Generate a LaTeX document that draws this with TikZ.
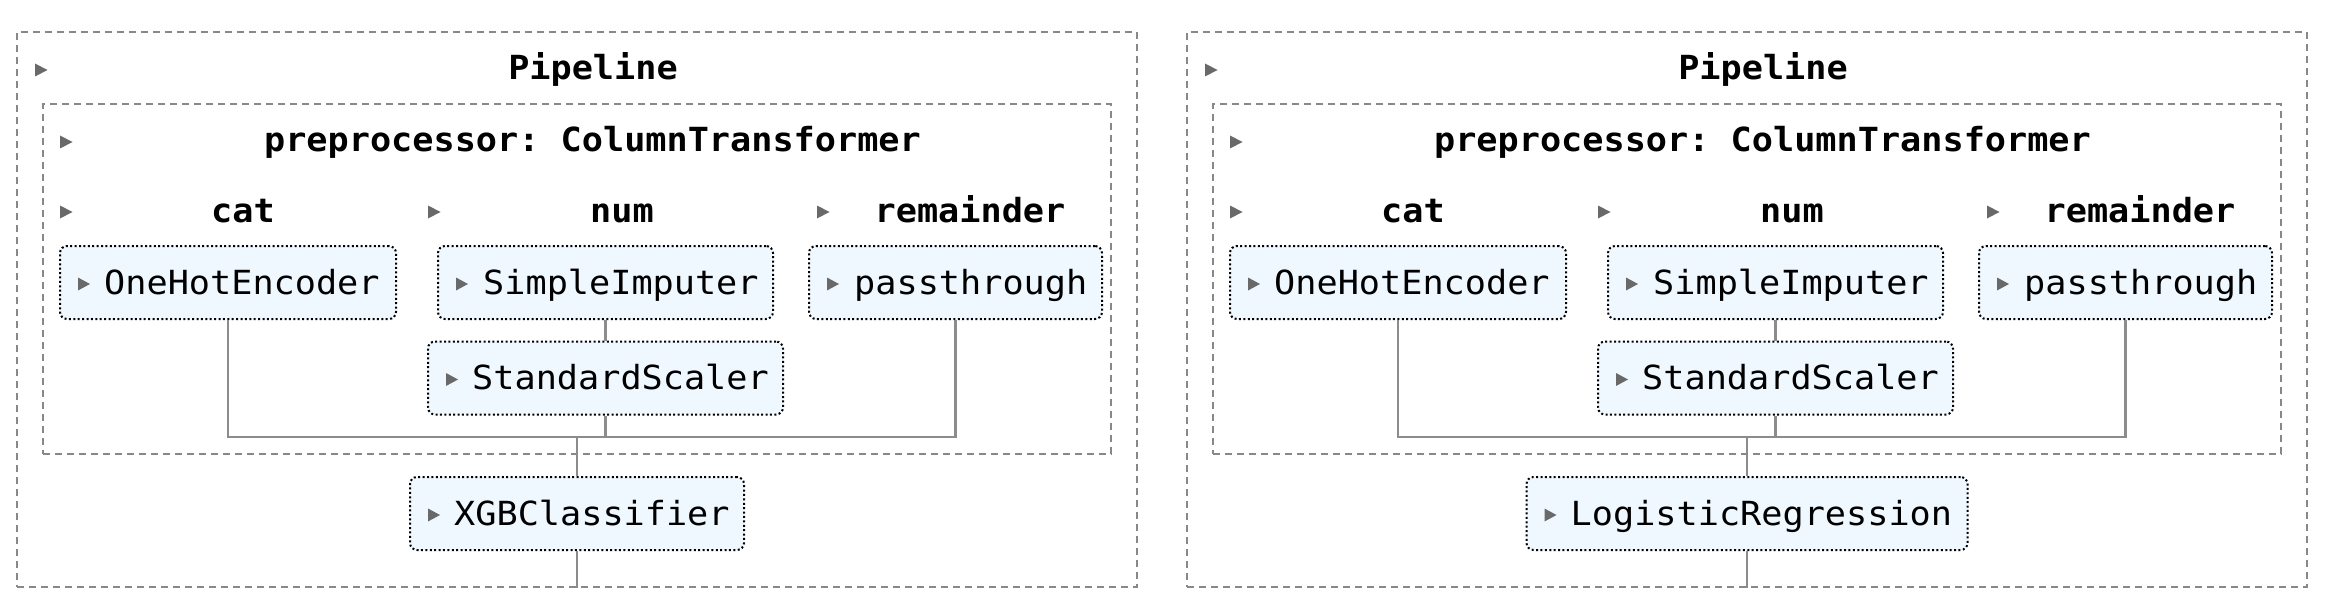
\documentclass[tikz,border=0pt]{standalone}
\usepackage{fontspec}
\setmonofont[FakeStretch=1.06]{DejaVu Sans Mono}
\definecolor{dashgray}{RGB}{136,136,136}
\definecolor{linegray}{RGB}{140,140,140}
\definecolor{trigray}{RGB}{105,105,105}
\definecolor{boxfill}{RGB}{240,248,255}
\tikzset{
 outerbox/.style={draw=dashgray, line width=2pt, dash pattern=on 7pt off 5pt, rectangle, inner sep=0pt},
 estbox/.style={draw=black, fill=boxfill, line width=2pt, dash pattern=on 2pt off 2.4pt, rounded corners=7pt, rectangle, inner sep=0pt, minimum height=73pt},
 conn/.style={draw=linegray, line width=2.2pt},
 tri/.style={fill=trigray},
 hdr/.style={font=\ttfamily\bfseries\fontsize{33.2}{40}\selectfont, inner sep=0pt, anchor=base},
 lbl/.style={font=\ttfamily\fontsize{33.2}{40}\selectfont, inner sep=0pt, anchor=base west},
}
\newcommand\hdrtri[2]{\fill[tri] (#1,#2) ++(0,-6.5) -- ++(12.5,6.5) -- ++(-12.5,6.5) -- cycle;}
\newcommand\boxtri[1]{\fill[tri] ([xshift=19pt,yshift=-32.5pt]#1.north west) -- ++(12,6.5) -- ++(-12,6.5) -- cycle;}
\newcommand\drawpipe[4]{%
\begin{scope}[xshift=#2]
 \node[outerbox, minimum width=1120pt, minimum height=555pt] (#1pipe) at (577,309.5) {};
 \node[outerbox, minimum width=1068pt, minimum height=350pt] (#1prep) at (577,279) {};
 \node[hdr] (#1tpipe) at (593,80) {Pipeline};
 \node[hdr] (#1tprep) at (592.5,152) {preprocessor: ColumnTransformer};
 \node[hdr] (#1tcat) at (243,222) {cat};
 \node[hdr] (#1tnum) at (622,222) {num};
 \node[hdr] (#1trem) at (970,222) {remainder};
 \hdrtri{35}{70}
 \hdrtri{60}{142}
 \hdrtri{60}{212}
 \hdrtri{428}{212}
 \hdrtri{817}{212}
 \coordinate (#1join) at (577,437);
 \node[estbox, minimum width=336pt] (#1ohe) at (228,282.5) {};
 \node[estbox, minimum width=335pt] (#1si) at (605.5,282.5) {};
 \node[estbox, minimum width=293pt] (#1pt) at (955.5,282.5) {};
 \node[estbox, minimum width=355pt] (#1ss) at (605.5,378) {};
 \node[estbox, minimum width=#4] (#1clf) at (577,513.5) {};
 \node[lbl] (#1lohe) at ([xshift=45pt,yshift=-49pt]#1ohe.north west) {OneHotEncoder};
 \node[lbl] (#1lsi) at ([xshift=46pt,yshift=-49pt]#1si.north west) {SimpleImputer};
 \node[lbl] (#1lpt) at ([xshift=46pt,yshift=-49pt]#1pt.north west) {passthrough};
 \node[lbl] (#1lss) at ([xshift=45pt,yshift=-49pt]#1ss.north west) {StandardScaler};
 \node[lbl] (#1lclf) at ([xshift=45pt,yshift=-49pt]#1clf.north west) {#3};
 \boxtri{#1ohe}
 \boxtri{#1si}
 \boxtri{#1pt}
 \boxtri{#1ss}
 \boxtri{#1clf}
 \draw[conn] (#1ohe.south) |- (#1join) -| (#1pt.south);
 \draw[conn] (#1si.south) -- (#1ss.north);
 \draw[conn] (#1ss.south) -- (#1ss.south |- #1join);
 \draw[conn] (#1join) -- (#1clf.north);
 \draw[conn] (#1clf.south) -- (#1pipe.south);
\end{scope}}
\begin{document}
\begin{tikzpicture}[x=1pt, y=-1pt]
 \useasboundingbox (0,0) rectangle (2332,615);
 \drawpipe{L}{0}{XGBClassifier}{334pt}
 \drawpipe{R}{1170}{LogisticRegression}{441pt}
\end{tikzpicture}
\end{document}
